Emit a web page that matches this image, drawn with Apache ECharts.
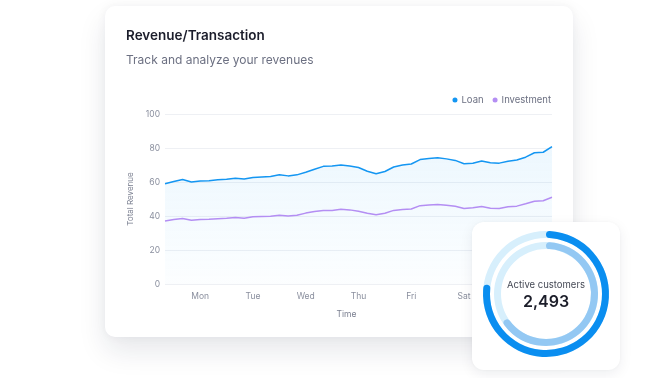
<!DOCTYPE html>
<html>
<head>
<meta charset="utf-8">
<script src="https://cdn.jsdelivr.net/npm/echarts/dist/echarts.min.js"></script>
<style>
  html, body { margin: 0; padding: 0; background: #ffffff; width: 656px; height: 378px; overflow: hidden; }
  #card { position: absolute; left: 105px; top: 6px; width: 468px; height: 331px; background: #fff;
          border-radius: 10px; box-shadow: 0 14px 28px rgba(20,30,60,0.10), 0 0 10px rgba(20,30,60,0.05); }
  #main { position: absolute; left: 0; top: 0; width: 656px; height: 378px; }
  #donutCard { position: absolute; left: 472px; top: 222px; width: 148px; height: 148px; background: #fff;
          border-radius: 12px; box-shadow: 0 4px 14px rgba(20,30,60,0.07), 0 0 4px rgba(20,30,60,0.04); }
  #donut { position: absolute; left: 0; top: 0; width: 148px; height: 148px; }
</style>
</head>
<body>
<div id="card"></div>
<div id="main"></div>
<div id="donutCard"><div id="donut"></div></div>
<script>
// ---- data ----
const times = [
  'Sun 08:00','Sun 12:00','Sun 16:00','Sun 20:00',
  'Mon 00:00','Mon 04:00','Mon 08:00','Mon 12:00','Mon 16:00','Mon 20:00',
  'Tue 00:00','Tue 04:00','Tue 08:00','Tue 12:00','Tue 16:00','Tue 20:00',
  'Wed 00:00','Wed 04:00','Wed 08:00','Wed 12:00','Wed 16:00','Wed 20:00',
  'Thu 00:00','Thu 04:00','Thu 08:00','Thu 12:00','Thu 16:00','Thu 20:00',
  'Fri 00:00','Fri 04:00','Fri 08:00','Fri 12:00','Fri 16:00','Fri 20:00',
  'Sat 00:00','Sat 04:00','Sat 08:00','Sat 12:00','Sat 16:00','Sat 20:00',
  'Sun 00:00','Sun 04:00','Sun 08:00','Sun 12:00','Sun 16:00'
];
const loan = [
  59.0, 60.3, 61.5, 60.0, 60.6, 60.8, 61.3, 61.6, 62.2, 61.7,
  62.7, 63.0, 63.3, 64.3, 63.6, 64.2, 65.7, 67.5, 69.2, 69.4,
  70.0, 69.4, 68.5, 66.3, 64.8, 66.2, 68.8, 70.0, 70.6, 73.2,
  73.8, 74.3, 73.6, 72.7, 70.7, 71.0, 72.4, 71.3, 71.1, 72.2,
  72.9, 74.6, 77.2, 77.5, 80.8
];
const investment = [
  37.1, 37.9, 38.5, 37.5, 37.9, 38.1, 38.4, 38.7, 39.1, 38.7,
  39.5, 39.7, 39.9, 40.4, 40.0, 40.5, 41.7, 42.6, 43.3, 43.3,
  43.9, 43.6, 42.8, 41.6, 40.7, 41.6, 43.3, 43.8, 44.1, 46.1,
  46.5, 46.7, 46.3, 45.7, 44.4, 44.9, 45.6, 44.6, 44.4, 45.4,
  45.8, 47.2, 48.7, 49.0, 51.0
];
const yTicks = { min: 0, max: 100, interval: 20 };
const activeCustomers = '2,493';
const outerShare = 77.5;   // percent of outer ring filled
const innerShare = 66;     // percent of inner ring filled

const FONT = 'Inter, "Noto Sans", sans-serif';

const chart = echarts.init(document.getElementById('main'), null, { renderer: 'canvas' });
chart.setOption({
  animation: false,
  backgroundColor: 'transparent',
  title: [
    { text: 'Revenue/Transaction', left: 121, top: 24,
      textStyle: { fontFamily: FONT, fontSize: 13.5, fontWeight: 600, color: '#1b1d2b' } },
    { text: 'Track and analyze your revenues', left: 121, top: 49,
      textStyle: { fontFamily: FONT, fontSize: 12, fontWeight: 400, color: '#6c7082' } }
  ],
  legend: {
    right: 100, top: 90, icon: 'circle', itemWidth: 5, itemHeight: 5, itemGap: 9,
    textStyle: { fontFamily: FONT, fontSize: 9.5, color: '#6c7082', padding: [0, 0, 0, -1] },
    data: ['Loan', 'Investment']
  },
  grid: { left: 165, right: 104, top: 114, bottom: 94, containLabel: false },
  xAxis: {
    type: 'category', data: times, boundaryGap: false,
    name: 'Time', nameLocation: 'middle', nameGap: 26,
    nameTextStyle: { fontFamily: FONT, fontSize: 8.5, color: '#7a7f90', padding: [0, 24, 0, 0] },
    axisLine: { show: false }, axisTick: { show: false },
    axisLabel: {
      interval: (idx, val) => val.endsWith('00:00'),
      formatter: v => v.slice(0, 3),
      margin: 8, fontFamily: FONT, fontSize: 8.5, color: '#8a8f9e'
    },
    splitLine: { show: false }
  },
  yAxis: {
    type: 'value', min: yTicks.min, max: yTicks.max, interval: yTicks.interval,
    name: 'Total Revenue', nameLocation: 'middle', nameGap: 29, nameRotate: 90,
    nameTextStyle: { fontFamily: FONT, fontSize: 8, color: '#7a7f90' },
    axisLine: { show: false }, axisTick: { show: false },
    axisLabel: { margin: 5, fontFamily: FONT, fontSize: 8.5, color: '#8a8f9e' },
    splitLine: { lineStyle: { color: '#eef0f4', width: 1 } }
  },
  series: [
    {
      name: 'Loan', type: 'line', data: loan, symbol: 'none', smooth: false,
      itemStyle: { color: '#1496f2' },
      lineStyle: { color: '#1496f2', width: 1.5 },
      areaStyle: {
        color: new echarts.graphic.LinearGradient(0, 0, 0, 1, [
          { offset: 0, color: 'rgba(40,165,245,0.12)' },
          { offset: 1, color: 'rgba(40,165,245,0.02)' }
        ])
      },
      z: 3
    },
    {
      name: 'Investment', type: 'line', data: investment, symbol: 'none', smooth: false,
      itemStyle: { color: '#b48ef3' },
      lineStyle: { color: '#b48ef3', width: 1.5 },
      z: 4
    }
  ]
});

const donut = echarts.init(document.getElementById('donut'), null, { renderer: 'canvas' });
const ctr = [74, 72];
donut.setOption({
  animation: false,
  backgroundColor: 'transparent',
  graphic: [
    { type: 'text', left: 'center', top: 58,
      style: { text: 'Active customers', fontFamily: FONT, fontSize: 9.5, fill: '#464a56' } },
    { type: 'text', left: 'center', top: 72,
      style: { text: activeCustomers, fontFamily: FONT, fontSize: 16, fontWeight: 600, fill: '#1c1e2a' } }
  ],
  series: [
    { type: 'pie', center: ctr, radius: [56, 63], silent: true, label: { show: false },
      data: [{ value: 100, itemStyle: { color: '#d7effc' } }], z: 1 },
    { type: 'pie', center: ctr, radius: [45, 52], silent: true, label: { show: false },
      data: [{ value: 100, itemStyle: { color: '#d7effc' } }], z: 1 },
    { type: 'pie', center: ctr, radius: [56, 63], startAngle: 90, clockwise: true, silent: true,
      label: { show: false }, itemStyle: { borderRadius: 4 },
      data: [
        { value: outerShare, itemStyle: { color: '#0a8ef0' } },
        { value: 100 - outerShare, itemStyle: { color: 'rgba(0,0,0,0)' } }
      ], z: 2 },
    { type: 'pie', center: ctr, radius: [45, 52], startAngle: 90, clockwise: true, silent: true,
      label: { show: false }, itemStyle: { borderRadius: 4 },
      data: [
        { value: innerShare, itemStyle: { color: '#93c8f3' } },
        { value: 100 - innerShare, itemStyle: { color: 'rgba(0,0,0,0)' } }
      ], z: 2 }
  ]
});
</script>
</body>
</html>
